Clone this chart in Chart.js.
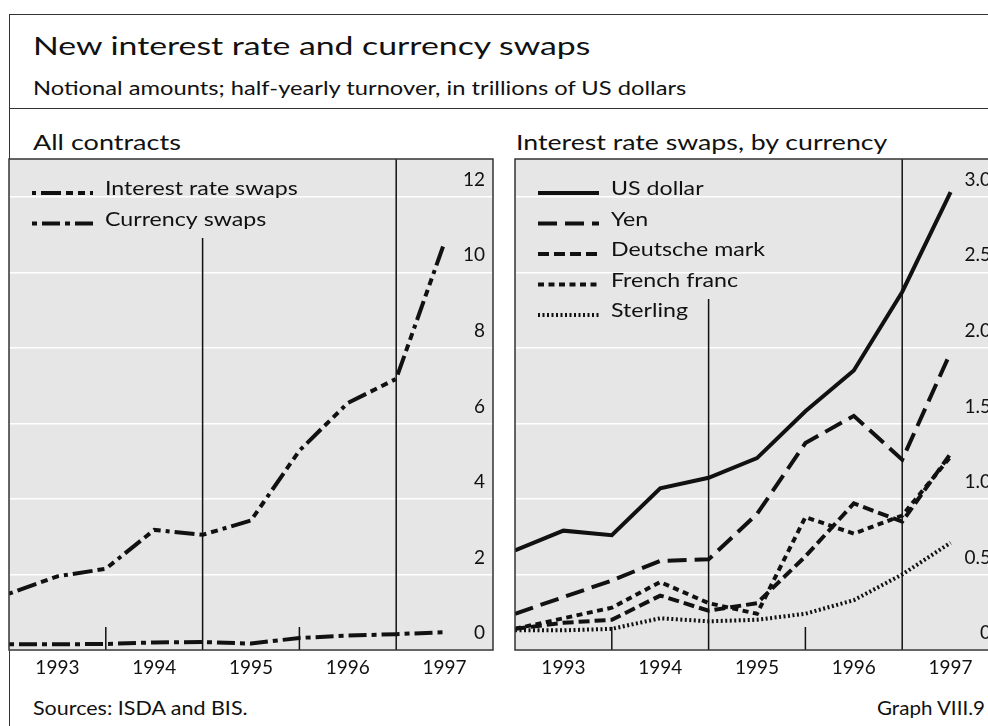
<!DOCTYPE html>
<html>
<head>
<meta charset="utf-8">
<script src="https://cdn.jsdelivr.net/npm/chart.js@4.4.0/dist/chart.umd.min.js"></script>
<style>
  html, body { margin: 0; padding: 0; background: #fff; overflow: hidden; }
  body { width: 988px; height: 726px; position: relative; font-family: "Lato", "Open Sans", sans-serif; color: #111; }
  .frame { position: absolute; left: 9px; top: 14px; width: 1200px; height: 900px; border-top: 1.5px solid #333; border-left: 1.5px solid #333; }
  .rule { position: absolute; left: 9px; top: 108px; width: 1200px; border-top: 1.5px solid #333; }
  .txt { position: absolute; white-space: nowrap; transform-origin: 0 50%; }
  canvas { position: absolute; }
</style>
</head>
<body>
<div class="frame"></div>
<div class="rule"></div>
<div class="txt" data-w="558" style="left:33px; top:30px; font-size:25px; line-height:30px;">New interest rate and currency swaps</div>
<div class="txt" data-w="653" style="left:33px; top:76px; font-size:19.5px; line-height:24px;">Notional amounts; half-yearly turnover, in trillions of US dollars</div>
<div class="txt" data-w="148" style="left:33px; top:129px; font-size:21px; line-height:26px;">All contracts</div>
<div class="txt" data-w="371" style="left:516px; top:129px; font-size:21px; line-height:26px;">Interest rate swaps, by currency</div>
<div class="txt" data-w="215" style="left:33px; top:695px; font-size:20px; line-height:24px;">Sources: ISDA and BIS.</div>
<div class="txt" data-w="108" style="left:877px; top:695px; font-size:20px; line-height:24px;">Graph VIII.9</div>
<canvas id="left" width="492" height="535" style="left:5px; top:155px;"></canvas>
<canvas id="right" width="492" height="535" style="left:511px; top:155px;"></canvas>
<script>
// half-years, first half of 1993 .. second half of 1997
const halfYears = [0, 1, 2, 3, 4, 5, 6, 7, 8, 9];
const years = ['1993', '1994', '1995', '1996', '1997'];
const yearTicks = [1, 3, 5, 7, 9];

// all contracts, trillions of US dollars
const interestRateSwaps = [1.49, 1.95, 2.15, 3.18, 3.05, 3.43, 5.28, 6.54, 7.18, 10.8];
const currencySwaps = [0.15, 0.15, 0.16, 0.2, 0.21, 0.17, 0.32, 0.38, 0.42, 0.47];
const leftTicks = [0, 2, 4, 6, 8, 10, 12];

// interest rate swaps by currency
const usDollar = [0.66, 0.79, 0.76, 1.07, 1.14, 1.27, 1.58, 1.85, 2.37, 3.03];
const yen = [0.24, 0.35, 0.46, 0.59, 0.6, 0.9, 1.37, 1.55, 1.26, 1.97];
const deutscheMark = [0.14, 0.18, 0.2, 0.36, 0.26, 0.31, 0.62, 0.97, 0.85, 1.3];
const frenchFranc = [0.14, 0.21, 0.28, 0.45, 0.31, 0.24, 0.88, 0.77, 0.89, 1.28];
const sterling = [0.13, 0.13, 0.14, 0.21, 0.19, 0.2, 0.24, 0.33, 0.5, 0.71];
const rightTicks = [0, 0.5, 1, 1.5, 2, 2.5, 3];

const font = { family: 'Lato', size: 19 };
const ink = '#111';

const points = vals => vals.map((v, i) => ({ x: halfYears[i], y: v }));

function line(label, vals, dash, width) {
  return {
    label, data: points(vals), borderColor: ink, borderWidth: width || 4,
    borderDash: dash, borderCapStyle: 'butt', pointRadius: 0, tension: 0, fill: false
  };
}

const panelBackground = {
  id: 'panelBackground',
  beforeDraw(chart) {
    const { ctx, chartArea: a } = chart;
    ctx.save();
    ctx.fillStyle = '#e6e6e6';
    ctx.fillRect(a.left, a.top, a.right - a.left, a.bottom - a.top);
    ctx.restore();
  },
  afterDraw(chart) {
    const { ctx, chartArea: a } = chart;
    ctx.save();
    ctx.strokeStyle = '#333';
    ctx.lineWidth = 1.5;
    ctx.strokeRect(a.left, a.top, a.right - a.left, a.bottom - a.top);
    ctx.restore();
  }
};

// year boundary marks: short ticks, one long line, one full line
const markers = {
  id: 'markers',
  beforeDatasetsDraw(chart, args, opts) {
    const { ctx, chartArea: a, scales } = chart;
    ctx.save();
    ctx.strokeStyle = ink;
    ctx.lineWidth = 1.5;
    opts.lines.forEach(m => {
      const x = scales.x.getPixelForValue(m.x);
      const top = m.from === 'top' ? a.top : (m.from === 'tick' ? a.bottom - 23 : a.top + m.from);
      ctx.beginPath();
      ctx.moveTo(x, top);
      ctx.lineTo(x, a.bottom);
      ctx.stroke();
    });
    ctx.restore();
  }
};

const panelLegend = {
  id: 'panelLegend',
  afterDatasetsDraw(chart) {
    const { ctx, chartArea: a } = chart;
    chart.data.datasets.forEach((ds, i) => {
      const y = a.top + 34 + i * 30.5;
      ctx.save();
      ctx.strokeStyle = ink;
      ctx.lineWidth = ds.borderWidth;
      ctx.setLineDash(ds.borderDash || []);
      ctx.beginPath();
      ctx.moveTo(a.left + 23, y);
      ctx.lineTo(a.left + 84, y);
      ctx.stroke();
      ctx.setLineDash([]);
      ctx.fillStyle = ink;
      ctx.font = '19px Lato';
      ctx.textBaseline = 'middle';
      ctx.translate(a.left + 96, y - 4);
      ctx.scale(1.22, 1);
      ctx.fillText(ds.label, 0, 0);
      ctx.restore();
    });
  }
};

function makeChart(id, datasets, yMax, yTicks, fmt, lines) {
  return new Chart(document.getElementById(id), {
    type: 'line',
    data: { datasets },
    plugins: [panelBackground, markers, panelLegend],
    options: {
      responsive: false,
      animation: false,
      layout: { autoPadding: false, padding: { left: 4, right: 4, top: 4, bottom: 0 } },
      plugins: { legend: { display: false }, tooltip: { enabled: false }, markers: { lines } },
      scales: {
        x: {
          type: 'linear', min: 0, max: 10,
          grid: { display: false }, border: { display: false },
          afterBuildTicks: s => { s.ticks = yearTicks.map(v => ({ value: v })); },
          afterFit: s => { s.height = 40; s.paddingLeft = 0; s.paddingRight = 0; },
          ticks: { font, color: ink, padding: -2, maxRotation: 0, autoSkip: false,
                   callback: v => years[(v - 1) / 2] }
        },
        y: {
          position: 'right', min: 0, max: yMax,
          grid: { color: '#fff', lineWidth: 1.5, drawTicks: false }, border: { display: false },
          afterBuildTicks: s => { s.ticks = yTicks.map(v => ({ value: v })); },
          afterFit: s => { s.width = 0; s.paddingTop = 0; s.paddingBottom = 0; },
          ticks: { font, color: ink, mirror: true, padding: -8, labelOffset: -17, autoSkip: false,
                   callback: fmt }
        }
      }
    }
  });
}

function draw() {
  document.querySelectorAll('.txt').forEach(el => {
    el.style.transform = 'scaleX(' + (el.dataset.w / el.offsetWidth) + ')';
  });

  makeChart('left', [
    line('Interest rate swaps', interestRateSwaps, [4, 5, 20, 5, 7, 5, 7, 5]),
    line('Currency swaps', currencySwaps, [5, 5, 18, 5])
  ], 13, leftTicks, v => String(v), [
    { x: 2, from: 'tick' }, { x: 4, from: 79 }, { x: 6, from: 'tick' }, { x: 8, from: 'top' }
  ]);

  makeChart('right', [
    line('US dollar', usDollar, []),
    line('Yen', yen, [19, 8]),
    line('Deutsche mark', deutscheMark, [11, 5]),
    line('French franc', frenchFranc, [6, 4.5]),
    line('Sterling', sterling, [2, 2.5])
  ], 3.25, rightTicks, v => v === 0 ? '0' : v.toFixed(1), [
    { x: 2, from: 'tick' }, { x: 4, from: 140 }, { x: 6, from: 'tick' }, { x: 8, from: 'top' }
  ]);
}

document.fonts.load('19px Lato').then(draw, draw);
</script>
</body>
</html>
